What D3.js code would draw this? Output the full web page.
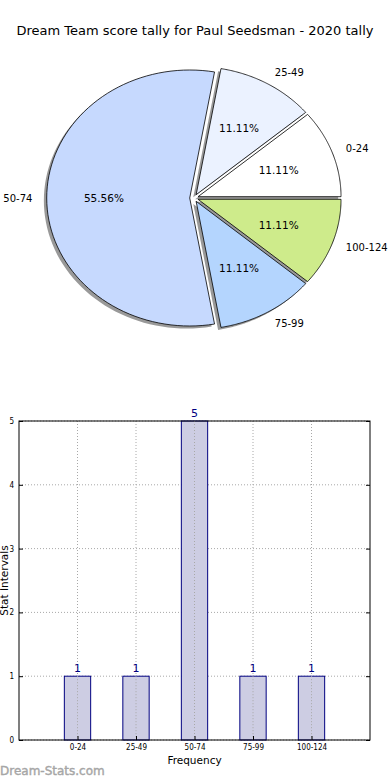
<!DOCTYPE html>
<html>
<head>
<meta charset="utf-8">
<script src="https://cdn.jsdelivr.net/npm/d3@7/dist/d3.min.js"></script>
<style>
  body { margin: 0; background: #fff; }
  svg text { font-family: "DejaVu Sans", sans-serif; }
  .grid line { stroke: #a8a8a8; stroke-dasharray: 1,2; }
  .axis text { font-size: 8px; font-family: "DejaVu Sans Condensed", "DejaVu Sans", sans-serif; }
</style>
</head>
<body>
<script>
// score ranges and how many rounds fell in each
var categories = ["0-24", "25-49", "50-74", "75-99", "100-124"];
var counts = [1, 1, 5, 1, 1];
var sliceColors = ["#ffffff", "#ebf2ff", "#c6d9fe", "#b4d5fe", "#ceeb8b"];
var yTicks = [0, 1, 2, 3, 4, 5];

var width = 390, height = 780;

var svg = d3.select("body").append("svg")
    .attr("width", width)
    .attr("height", height);

// title
svg.append("text")
    .attr("x", 195)
    .attr("y", 35)
    .attr("text-anchor", "middle")
    .style("font-size", "13px")
    .text("Dream Team score tally for Paul Seedsman - 2020 tally");

// ---------- pie (matplotlib style, stretched, exploded, shadowed) ----------
var cx = 194, cy = 198, rx = 143, ry = 128;
var explode = 0.03;

var total = d3.sum(counts);
// angles in radians, counter clockwise from 3 o'clock
var pieData = [];
var a0 = 0;
counts.forEach(function(c, i) {
    var a1 = a0 + c / total * 2 * Math.PI;
    pieData.push({cat: categories[i], value: c, a0: a0, a1: a1, color: sliceColors[i]});
    a0 = a1;
});

function wedgePath(d, ox, oy) {
    var pts = [];
    var n = 80;
    var x0 = cx + ox, y0 = cy + oy;
    pts.push([x0, y0]);
    for (var k = 0; k <= n; k++) {
        var t = d.a0 + (d.a1 - d.a0) * k / n;
        pts.push([x0 + rx * Math.cos(t), y0 - ry * Math.sin(t)]);
    }
    return d3.line()(pts) + "Z";
}

var pieG = svg.append("g");

pieData.forEach(function(d) {
    var mid = (d.a0 + d.a1) / 2;
    d.ox = explode * rx * Math.cos(mid);
    d.oy = -explode * ry * Math.sin(mid);
    d.mid = mid;
});

// shadows first
pieG.selectAll("path.shadow")
    .data(pieData)
    .enter().append("path")
    .attr("class", "shadow")
    .attr("d", function(d) { return wedgePath(d, d.ox - 0.02 * rx, d.oy + 0.02 * ry); })
    .style("fill", "#555")
    .style("opacity", 0.6);

pieG.selectAll("path.wedge")
    .data(pieData)
    .enter().append("path")
    .attr("class", "wedge")
    .attr("d", function(d) { return wedgePath(d, d.ox, d.oy); })
    .style("fill", function(d) { return d.color; })
    .style("stroke", "#000")
    .style("stroke-width", 0.8)
    .style("stroke-linejoin", "round");

// outer labels
pieG.selectAll("text.lbl")
    .data(pieData)
    .enter().append("text")
    .attr("class", "lbl")
    .attr("x", function(d) { return cx + d.ox + 1.1 * rx * Math.cos(d.mid); })
    .attr("y", function(d) { return cy + d.oy - 1.1 * ry * Math.sin(d.mid); })
    .attr("dy", "0.35em")
    .attr("text-anchor", function(d) { return Math.cos(d.mid) > 0 ? "start" : "end"; })
    .style("font-size", "10px")
    .text(function(d) { return d.cat; });

// percentages
pieG.selectAll("text.pct")
    .data(pieData)
    .enter().append("text")
    .attr("class", "pct")
    .attr("x", function(d) { return cx + d.ox + 0.6 * rx * Math.cos(d.mid); })
    .attr("y", function(d) { return cy + d.oy - 0.6 * ry * Math.sin(d.mid); })
    .attr("dy", "0.35em")
    .attr("text-anchor", "middle")
    .style("font-size", "10.5px")
    .text(function(d) { return (d.value / total * 100).toFixed(2) + "%"; });

// ---------- bar chart ----------
var bx0 = 19, bx1 = 370, by0 = 421, by1 = 740;

var xScale = d3.scaleLinear().domain([0, 6]).range([bx0, bx1]);
var yScale = d3.scaleLinear().domain([0, 5]).range([by1, by0]);
var barW = xScale(0.45) - xScale(0);

var barG = svg.append("g");

// grid
var grid = barG.append("g").attr("class", "grid");
grid.selectAll("line.gx")
    .data(categories)
    .enter().append("line")
    .attr("x1", function(d, i) { return xScale(i + 1); })
    .attr("x2", function(d, i) { return xScale(i + 1); })
    .attr("y1", by0).attr("y2", by1);
grid.selectAll("line.gy")
    .data(yTicks)
    .enter().append("line")
    .attr("x1", bx0).attr("x2", bx1)
    .attr("y1", function(d) { return yScale(d); })
    .attr("y2", function(d) { return yScale(d); });

// bars
barG.selectAll("rect.bar")
    .data(counts)
    .enter().append("rect")
    .attr("class", "bar")
    .attr("x", function(d, i) { return xScale(i + 1) - barW / 2; })
    .attr("y", function(d) { return yScale(d); })
    .attr("width", barW)
    .attr("height", function(d) { return yScale(0) - yScale(d); })
    .style("fill", "#cdcde3")
    .style("stroke", "#000080")
    .style("stroke-width", 1);

// grid shows through the bars in the reference
var grid2 = barG.append("g").attr("class", "grid");
grid2.selectAll("line")
    .data(categories)
    .enter().append("line")
    .attr("x1", function(d, i) { return xScale(i + 1); })
    .attr("x2", function(d, i) { return xScale(i + 1); })
    .attr("y1", function(d, i) { return yScale(counts[i]); })
    .attr("y2", by1);

// value labels
barG.selectAll("text.val")
    .data(counts)
    .enter().append("text")
    .attr("class", "val")
    .attr("x", function(d, i) { return xScale(i + 1); })
    .attr("y", function(d) { return yScale(d) - 4; })
    .attr("text-anchor", "middle")
    .style("font-size", "11px")
    .style("fill", "#000080")
    .text(function(d) { return d; });

// frame
barG.append("rect")
    .attr("x", bx0).attr("y", by0)
    .attr("width", bx1 - bx0).attr("height", by1 - by0)
    .style("fill", "none")
    .style("stroke", "#000")
    .style("stroke-width", 1);

// axes
var xAxis = d3.axisBottom(xScale)
    .tickValues([1, 2, 3, 4, 5])
    .tickFormat(function(d) { return categories[d - 1]; })
    .tickSizeInner(-4).tickSizeOuter(0).tickPadding(4);
barG.append("g")
    .attr("class", "axis")
    .attr("transform", "translate(0," + by1 + ")")
    .call(xAxis)
    .call(function(g) { g.select(".domain").remove(); });

var yAxis = d3.axisLeft(yScale)
    .tickValues(yTicks)
    .tickFormat(d3.format("d"))
    .tickSizeInner(-4).tickSizeOuter(0).tickPadding(5);
barG.append("g")
    .attr("class", "axis")
    .attr("transform", "translate(" + bx0 + ",0)")
    .call(yAxis)
    .call(function(g) { g.select(".domain").remove(); });

// right side ticks
barG.append("g")
    .attr("transform", "translate(" + bx1 + ",0)")
    .call(d3.axisRight(yScale).tickValues(yTicks).tickSizeInner(-4).tickSizeOuter(0).tickFormat(""))
    .call(function(g) { g.select(".domain").remove(); });

// axis titles
svg.append("text")
    .attr("x", (bx0 + bx1) / 2)
    .attr("y", 764)
    .attr("text-anchor", "middle")
    .style("font-size", "10.5px")
    .text("Frequency");

svg.append("text")
    .attr("transform", "translate(8," + ((by0 + by1) / 2) + ") rotate(-90)")
    .attr("text-anchor", "middle")
    .style("font-size", "10.5px")
    .text("Stat Intervals");

// watermark
svg.append("text")
    .attr("x", 0)
    .attr("y", 775)
    .style("font-size", "12px")
    .style("fill", "#a6a6a6")
    .style("stroke", "#a6a6a6")
    .style("stroke-width", 0.4)
    .text("Dream-Stats.com");
</script>
</body>
</html>
